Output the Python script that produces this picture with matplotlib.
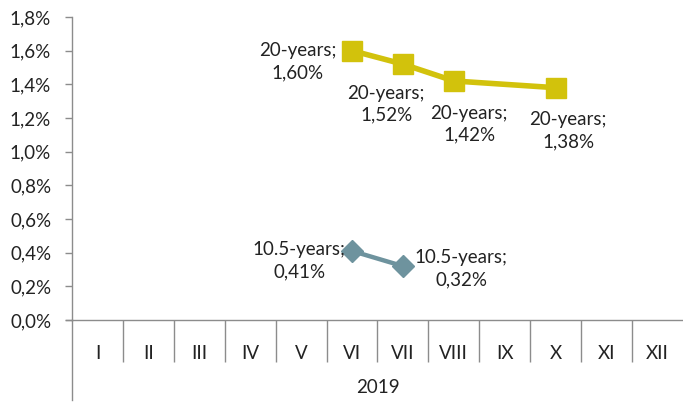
import matplotlib
matplotlib.use("Agg")
import matplotlib.pyplot as plt
import numpy as np

plt.rcParams['font.family'] = ['Lato', 'DejaVu Sans']

months = ["I", "II", "III", "IV", "V", "VI", "VII", "VIII", "IX", "X", "XI", "XII"]
year_label = "2019"

# series values in percent, None where no data
y20 = [None, None, None, None, None, 1.60, 1.52, 1.42, None, 1.38, None, None]
y105 = [None, None, None, None, None, 0.41, 0.32, None, None, None, None, None]

# label offsets (points) per month index
off20 = {5: (-39, -8), 6: (-12, -29), 7: (11, -31), 9: (9, -31)}
off105 = {5: (-38, -7), 6: (42, -2)}

axis_col = "#8C8C8C"
col20 = "#D2C20C"
col105 = "#6E939E"
fs = 13.5


def fmt(v):
    return ("%.2f%%" % v).replace(".", ",")


fig = plt.figure(figsize=(6.83, 4.03), dpi=100)
ax = fig.add_axes([72 / 683, 1 - 320 / 403, 1 - 72 / 683, (320 - 17) / 403])

x = np.arange(len(months))


def plot_series(vals, color, marker, ms, lw, name, offsets):
    xs = [i for i, v in enumerate(vals) if v is not None]
    ys = [vals[i] for i in xs]
    ax.plot(xs, ys, color=color, lw=lw, marker=marker, ms=ms,
            markeredgecolor=color, solid_joinstyle="round", zorder=3)
    for i, v in zip(xs, ys):
        dx, dy = offsets[i]
        ax.annotate("%s;\n%s" % (name, fmt(v)), (i, v), xytext=(dx, dy),
                    textcoords="offset points", ha="center", va="center",
                    multialignment="center", fontsize=fs, color="#222222",
                    linespacing=1.35)


plot_series(y20, col20, "s", 15, 4.0, "20-years", off20)
plot_series(y105, col105, "D", 11, 3.2, "10.5-years", off105)

ax.set_xlim(-0.5, len(months) - 0.5)
ax.set_ylim(0, 1.8)
yt = np.arange(0, 1.81, 0.2)
ax.set_yticks(yt)
ax.set_yticklabels([("%.1f%%" % t).replace(".", ",") for t in yt],
                   fontsize=fs, color="#222222")
ax.tick_params(axis="y", length=5, color=axis_col, width=1, pad=10)

# category labels and separators
ax.set_xticks(x)
ax.set_xticklabels(months, fontsize=fs, color="#222222")
ax.tick_params(axis="x", which="major", length=0, pad=18)
ax.set_xticks(np.arange(0.5, len(months) - 0.5, 1), minor=True)
ax.tick_params(axis="x", which="minor", length=30, color=axis_col, width=1)

for s in ["top", "right"]:
    ax.spines[s].set_visible(False)
for s in ["left", "bottom"]:
    ax.spines[s].set_color(axis_col)
    ax.spines[s].set_linewidth(1)

# y axis line continues below, x axis line a bit left
ax.plot([0, 0], [0, -0.265], transform=ax.transAxes, color=axis_col, lw=1,
        clip_on=False)
ax.plot([-0.01, 0], [0, 0], transform=ax.transAxes, color=axis_col, lw=1,
        clip_on=False)
ax.text(0.5, -0.222, year_label, transform=ax.transAxes, ha="center",
        va="center", fontsize=fs, color="#222222")

fig.savefig("out.png", dpi=100)
